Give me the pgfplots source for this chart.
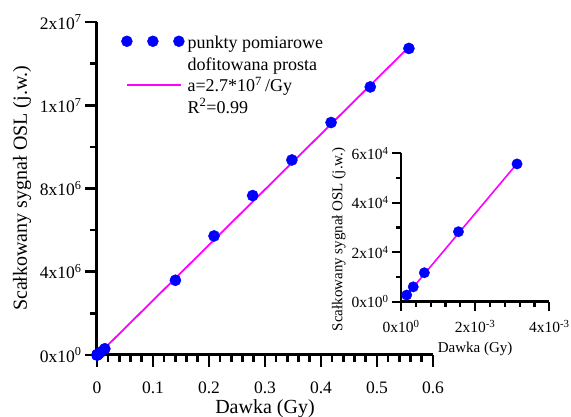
\documentclass[border=0pt]{standalone}
\usepackage{fontspec}
\setmainfont{Liberation Serif}
\usepackage{pgfplots}
\pgfplotsset{compat=1.18}
\definecolor{ptblue}{RGB}{0,0,255}
\definecolor{fitmag}{RGB}{255,0,255}

\begin{document}
\begin{tikzpicture}
\useasboundingbox (0pt,0pt) rectangle (571pt,417pt);
% main panel
\begin{axis}[
  at={(97pt,62pt)}, anchor=south west,
  scale only axis, width=336pt, height=333pt,
  xmin=0, xmax=0.6, ymin=0, ymax=1.6e7,
  axis lines=left, axis line style={-, line width=3pt},
  clip=false, tick align=outside,
  xtick={0,0.1,0.2,0.3,0.4,0.5,0.6},
  xticklabels={0,0.1,0.2,0.3,0.4,0.5,0.6},
  minor x tick num=4,
  ytick={0,4e6,8e6,1.2e7,1.6e7},
  yticklabels={0x10\textsuperscript{0},4x10\textsuperscript{6},8x10\textsuperscript{6},1x10\textsuperscript{7},2x10\textsuperscript{7}},
  minor y tick num=1,
  scaled ticks=false,
  major tick length=12pt, minor tick length=7pt,
  every tick/.style={black, line width=2.6pt},
  ticklabel style={font=\fontsize{17.5}{17.5}\selectfont},
  xticklabel style={yshift=-11pt},
  xlabel={Dawka (Gy)}, ylabel={Scałkowany sygnał OSL (j.w.)},
  label style={font=\fontsize{20}{20}\selectfont},
  xlabel style={at={(axis description cs:0.5,-0.162)}, anchor=center},
  ylabel style={at={(axis description cs:-0.223,0.5)}, anchor=center},
  legend style={at={(axis description cs:0.0714,0.966)}, anchor=north west,
    draw=none, fill=none, inner sep=0pt, row sep=0pt, column sep=3pt,
    font=\fontsize{18}{18}\selectfont,
    nodes={inner sep=0pt, text height=15pt, text depth=6.5pt}},
  legend cell align=left,
]
\addplot[only marks, mark=*, mark size=5.6pt, ptblue, forget plot] table {
x y
0 0
0.000154 2700
0.00033 6000
0.00063 11700
0.00155 28300
0.00313 55700
0.007 150000
0.014 300000
0.14 3590000
0.209 5720000
0.278 7660000
0.348 9370000
0.418 11170000
0.488 12880000
0.557 14730000
};
\addplot[fitmag, line width=1.8pt, forget plot] coordinates {
(0.0015,0) (0.559,14850000)};
\addlegendimage{legend image code/.code={
  \fill[ptblue] (0pt,3pt) circle (5.5pt);
  \fill[ptblue] (26pt,3pt) circle (5.5pt);
  \fill[ptblue] (52pt,3pt) circle (5.5pt);}}
\addlegendentry{punkty pomiarowe}
\addlegendimage{legend image code/.code={}}
\addlegendentry{dofitowana prosta}
\addlegendimage{legend image code/.code={
  \draw[fitmag, line width=1.8pt] (0pt,2.5pt) -- (54pt,2.5pt);}}
\addlegendentry{a=2.7*10\textsuperscript{7}\,/Gy}
\addlegendimage{legend image code/.code={}}
\addlegendentry{R\textsuperscript{2}=0.99}
\end{axis}
% inset
\begin{axis}[
  at={(401pt,115.3pt)}, anchor=south west,
  scale only axis, width=148.3pt, height=148.4pt,
  xmin=0, xmax=0.004, ymin=0, ymax=60000,
  axis lines=left, axis line style={-, line width=2.4pt},
  clip=false, tick align=outside,
  xtick={0,0.002,0.004},
  xticklabels={0x10\textsuperscript{0},2x10\textsuperscript{-3},4x10\textsuperscript{-3}},
  minor x tick num=4,
  ytick={0,20000,40000,60000},
  yticklabels={0x10\textsuperscript{0},2x10\textsuperscript{4},4x10\textsuperscript{4},6x10\textsuperscript{4}},
  minor y tick num=1,
  scaled ticks=false,
  major tick length=9pt, minor tick length=5pt,
  every tick/.style={black, line width=2.2pt},
  ticklabel style={font=\fontsize{15.5}{15.5}\selectfont},
  xticklabel style={yshift=-6pt},
  xlabel={Dawka (Gy)}, ylabel={Scałkowany sygnał OSL (j.w.)},
  label style={font=\fontsize{15}{15}\selectfont},
  xlabel style={at={(axis description cs:0.5,-0.32)}, anchor=center},
  ylabel style={at={(axis description cs:-0.42,0.42)}, anchor=center},
]
\addplot[only marks, mark=*, mark size=5.2pt, ptblue] table {
x y
0.000154 2700
0.00033 6000
0.00063 11700
0.00155 28300
0.00313 55700
};
\addplot[fitmag, line width=1.6pt] coordinates {
(0.000154,2700) (0.0031,55300)};
\end{axis}
\end{tikzpicture}
\end{document}
